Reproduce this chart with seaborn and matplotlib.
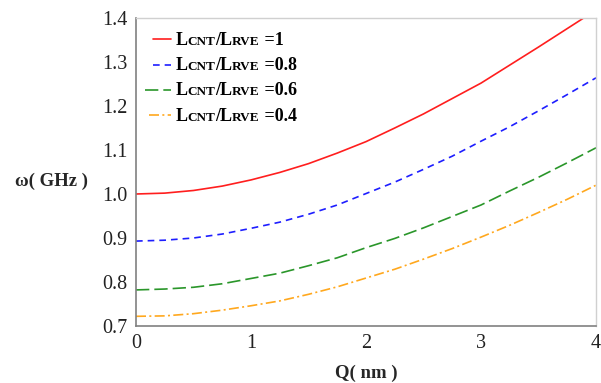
import matplotlib
matplotlib.use("Agg")
import matplotlib.pyplot as plt
import seaborn as sns
import numpy as np
import pandas as pd
from matplotlib.lines import Line2D
from matplotlib.offsetbox import (AnchoredOffsetbox, HPacker, VPacker,
                                  TextArea, DrawingArea)

# ---- data ----
Q = [0.0, 0.25, 0.5, 0.75, 1.0, 1.25, 1.5, 1.75, 2.0,
     2.25, 2.5, 2.75, 3.0, 3.25, 3.5, 3.75, 4.0]
w_10 = [1.000, 1.002, 1.008, 1.018, 1.032, 1.049, 1.069, 1.093, 1.119,
        1.150, 1.182, 1.217, 1.252, 1.293, 1.334, 1.376, 1.418]
w_08 = [0.893, 0.895, 0.900, 0.909, 0.922, 0.936, 0.954, 0.975, 1.001,
        1.027, 1.056, 1.086, 1.120, 1.153, 1.189, 1.226, 1.264]
w_06 = [0.782, 0.784, 0.788, 0.796, 0.808, 0.820, 0.837, 0.855, 0.878,
        0.899, 0.923, 0.949, 0.975, 1.007, 1.038, 1.071, 1.105]
w_04 = [0.722, 0.723, 0.728, 0.736, 0.746, 0.757, 0.772, 0.789, 0.809,
        0.829, 0.852, 0.876, 0.902, 0.929, 0.958, 0.988, 1.020]
ratios = ["1", "0.8", "0.6", "0.4"]
x_ticks = [0, 1, 2, 3, 4]
y_ticks = [0.7, 0.8, 0.9, 1.0, 1.1, 1.2, 1.3, 1.4]

series = [w_10, w_08, w_06, w_04]
colors = ["#ff1e1e", "#1e1eff", "#2a962a", "#ffa81e"]
dashes = [None, (4, 3), (8, 3), (6, 2, 1.2, 2)]
handle_len = [13, 13, 19, 16]

sns.set_theme(style="white")
plt.rcParams["font.family"] = ["Liberation Serif", "DejaVu Serif"]

fig = plt.figure(figsize=(6.01, 3.83), dpi=100)
ax = fig.add_axes([136 / 601, 1 - 326 / 383, 460 / 601, 308 / 383])

for vals, c, d in zip(series, colors, dashes):
    df = pd.DataFrame({"Q": Q, "w": vals})
    sns.lineplot(data=df, x="Q", y="w", ax=ax, color=c, lw=1.2, legend=False)
    ln = ax.lines[-1]
    if d is not None:
        ln.set_dashes(d)

ax.set_xlim(0, 4)
ax.set_ylim(0.7, 1.4)
ax.set_xticks(x_ticks)
ax.set_yticks(y_ticks)
ax.set_xticklabels([str(t) for t in x_ticks])
ax.set_yticklabels([f"{t:.1f}" for t in y_ticks])
ax.tick_params(axis="both", labelsize=14.5, colors="#222222",
               direction="out", length=4, width=0.8, pad=2)
ax.tick_params(axis="both", color="#888888")

for s in ["left", "bottom"]:
    ax.spines[s].set_color("#808080")
    ax.spines[s].set_linewidth(1.2)
for s in ["top", "right"]:
    ax.spines[s].set_color("#d0d0d0")
    ax.spines[s].set_linewidth(1.0)

ax.set_xlabel("Q( nm )", fontsize=13.5, fontweight="bold")
ax.set_ylabel("ω( GHz )", fontsize=13.5, fontweight="bold", rotation=0,
              va="center", ha="center")
ax.yaxis.set_label_coords(-0.183, 0.47)
ax.xaxis.set_label_coords(0.5, -0.125)

# ---- legend with small caps ----
big = dict(fontsize=13, fontweight="bold", color="black")
small = dict(fontsize=9.5, fontweight="bold", color="black")
rows = []
for r, c, d, hl in zip(ratios, colors, dashes, handle_len):
    da = DrawingArea(21, 10, 0, 0)
    x0 = 21 - hl - 3
    ln = Line2D([x0, x0 + hl], [4, 4], color=c, lw=1.2)
    if d is not None:
        ln.set_dashes(d)
    da.add_artist(ln)
    parts = [da,
             TextArea("L", textprops=big),
             TextArea("CNT", textprops=small),
             TextArea("/L", textprops=big),
             TextArea("RVE", textprops=small),
             TextArea(" =" + r, textprops=big)]
    rows.append(HPacker(children=parts, align="baseline", pad=0, sep=0))
vp = VPacker(children=rows, align="left", pad=0, sep=5.3)
ab = AnchoredOffsetbox(loc="upper left", child=vp, pad=0, borderpad=0,
                       frameon=False, bbox_to_anchor=(0.022, 0.958),
                       bbox_transform=ax.transAxes)
ax.add_artist(ab)

fig.savefig("out.png", dpi=100)
